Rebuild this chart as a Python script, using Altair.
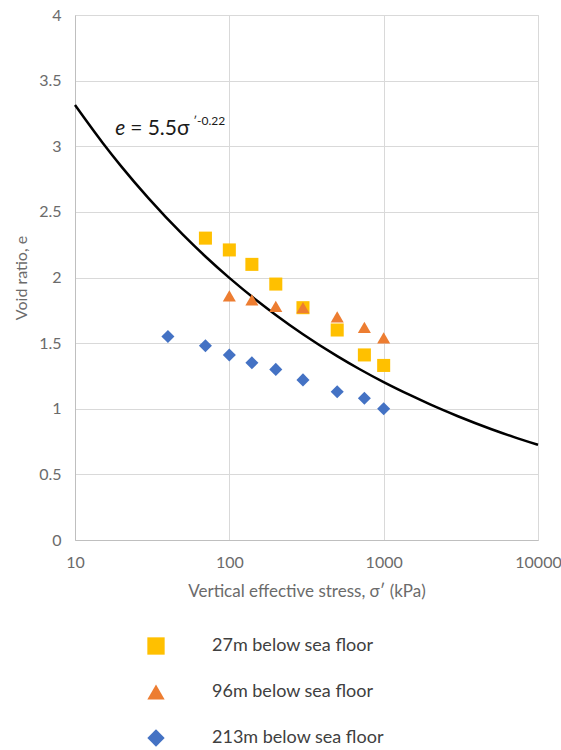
import altair as alt
import pandas as pd

# Data
stress = [70, 100, 140, 200, 300, 500, 750, 1000]
e_27m = [2.30, 2.21, 2.10, 1.95, 1.77, 1.60, 1.41, 1.33]
tri_stress = [100, 140, 200, 300, 500, 750, 1000]
e_96m = [1.86, 1.83, 1.78, 1.77, 1.70, 1.62, 1.54]
dia_stress = [40, 70, 100, 140, 200, 300, 500, 750, 1000]
e_213m = [1.55, 1.48, 1.41, 1.35, 1.30, 1.22, 1.13, 1.08, 1.00]

series_names = ["27m below sea floor", "96m below sea floor", "213m below sea floor"]
series_colors = ["#FFC000", "#ED7D31", "#4472C4"]
series_shapes = ["square", "triangle-up", "diamond"]

# fitted curve e = 5.5 sigma'^-0.22
curve_stress = [10, 15, 20, 30, 50, 70, 100, 150, 200, 300, 500, 700, 1000,
                1500, 2000, 3000, 5000, 7000, 10000]
curve_e = [3.314, 3.031, 2.845, 2.603, 2.326, 2.160, 1.997, 1.827, 1.715, 1.568,
           1.401, 1.301, 1.203, 1.101, 1.033, 0.945, 0.844, 0.784, 0.725]

eq_pos = [{"s": 18.2, "e": 3.13}]

FONT = "Lato"

pts = pd.concat([
    pd.DataFrame({"stress": stress, "e": e_27m, "series": series_names[0]}),
    pd.DataFrame({"stress": tri_stress, "e": e_96m, "series": series_names[1]}),
    pd.DataFrame({"stress": dia_stress, "e": e_213m, "series": series_names[2]}),
])
curve = pd.DataFrame({"stress": curve_stress, "e": curve_e})
eq = pd.DataFrame(eq_pos)

xscale = alt.Scale(type="log", domain=[10, 10000], nice=False)
yscale = alt.Scale(domain=[0, 4], nice=False)

xaxis = alt.Axis(values=[10, 100, 1000, 10000], format="d", ticks=False, labelFlush=False,
                 title="Vertical effective stress, σʹ (kPa)", titlePadding=13,
                 labelPadding=14, labelFontSize=16, titleFontSize=17,
                 labelColor="#6b6b6b", titleColor="#6b6b6b", titleFontWeight="normal",
                 gridColor="#d9d9d9", domainColor="#bfbfbf", labelFont=FONT, titleFont=FONT)
yaxis = alt.Axis(values=[0, 0.5, 1, 1.5, 2, 2.5, 3, 3.5, 4], format="~g", ticks=False,
                 labelFlush=False,
                 title="Void ratio, e", titlePadding=9, labelPadding=14,
                 labelFontSize=16, titleFontSize=16, labelColor="#6b6b6b",
                 titleColor="#6b6b6b", titleFontWeight="normal",
                 gridColor="#d9d9d9", domainColor="#bfbfbf", labelFont=FONT, titleFont=FONT)

line = alt.Chart(curve).mark_line(color="black", strokeWidth=2.5, interpolate="monotone").encode(
    x=alt.X("stress:Q", scale=xscale, axis=xaxis),
    y=alt.Y("e:Q", scale=yscale, axis=yaxis),
)

points = alt.Chart(pts).mark_point(filled=True, opacity=1, size=170).encode(
    x=alt.X("stress:Q", scale=xscale),
    y=alt.Y("e:Q", scale=yscale),
    color=alt.Color("series:N", scale=alt.Scale(domain=series_names, range=series_colors),
                    legend=alt.Legend(title=None, orient="none", legendX=72, legendY=622,
                                      symbolSize=300, labelFontSize=18, labelColor="#404040",
                                      labelFont=FONT, labelOffset=47, rowPadding=28,
                                      labelLimit=400, symbolStrokeWidth=0)),
    shape=alt.Shape("series:N", scale=alt.Scale(domain=series_names, range=series_shapes)),
)

eq_e = alt.Chart(eq).mark_text(text="e", align="left", baseline="middle", fontSize=21,
                               fontStyle="italic", font=FONT, color="#1a1a1a").encode(
    x=alt.X("s:Q", scale=xscale), y=alt.Y("e:Q", scale=yscale))
eq_main = alt.Chart(eq).mark_text(text="= 5.5σ", align="left", baseline="middle", fontSize=21,
                                  font=FONT, color="#1a1a1a", dx=15).encode(
    x=alt.X("s:Q", scale=xscale), y=alt.Y("e:Q", scale=yscale))
eq_sup = alt.Chart(eq).mark_text(text="ʹ-0.22", align="left", baseline="middle", fontSize=12,
                                 font=FONT, color="#1a1a1a", dx=78, dy=-8).encode(
    x=alt.X("s:Q", scale=xscale), y=alt.Y("e:Q", scale=yscale))

chart = alt.layer(line, points, eq_e, eq_main, eq_sup).properties(
    width=463, height=525,
    autosize=alt.AutoSizeParams(type="none"),
    padding={"left": 75, "top": 15, "right": 23, "bottom": 210},
    background="white",
).configure_view(stroke="#d9d9d9")

chart.save("out.html", embed_options={"renderer": "svg", "actions": False})
